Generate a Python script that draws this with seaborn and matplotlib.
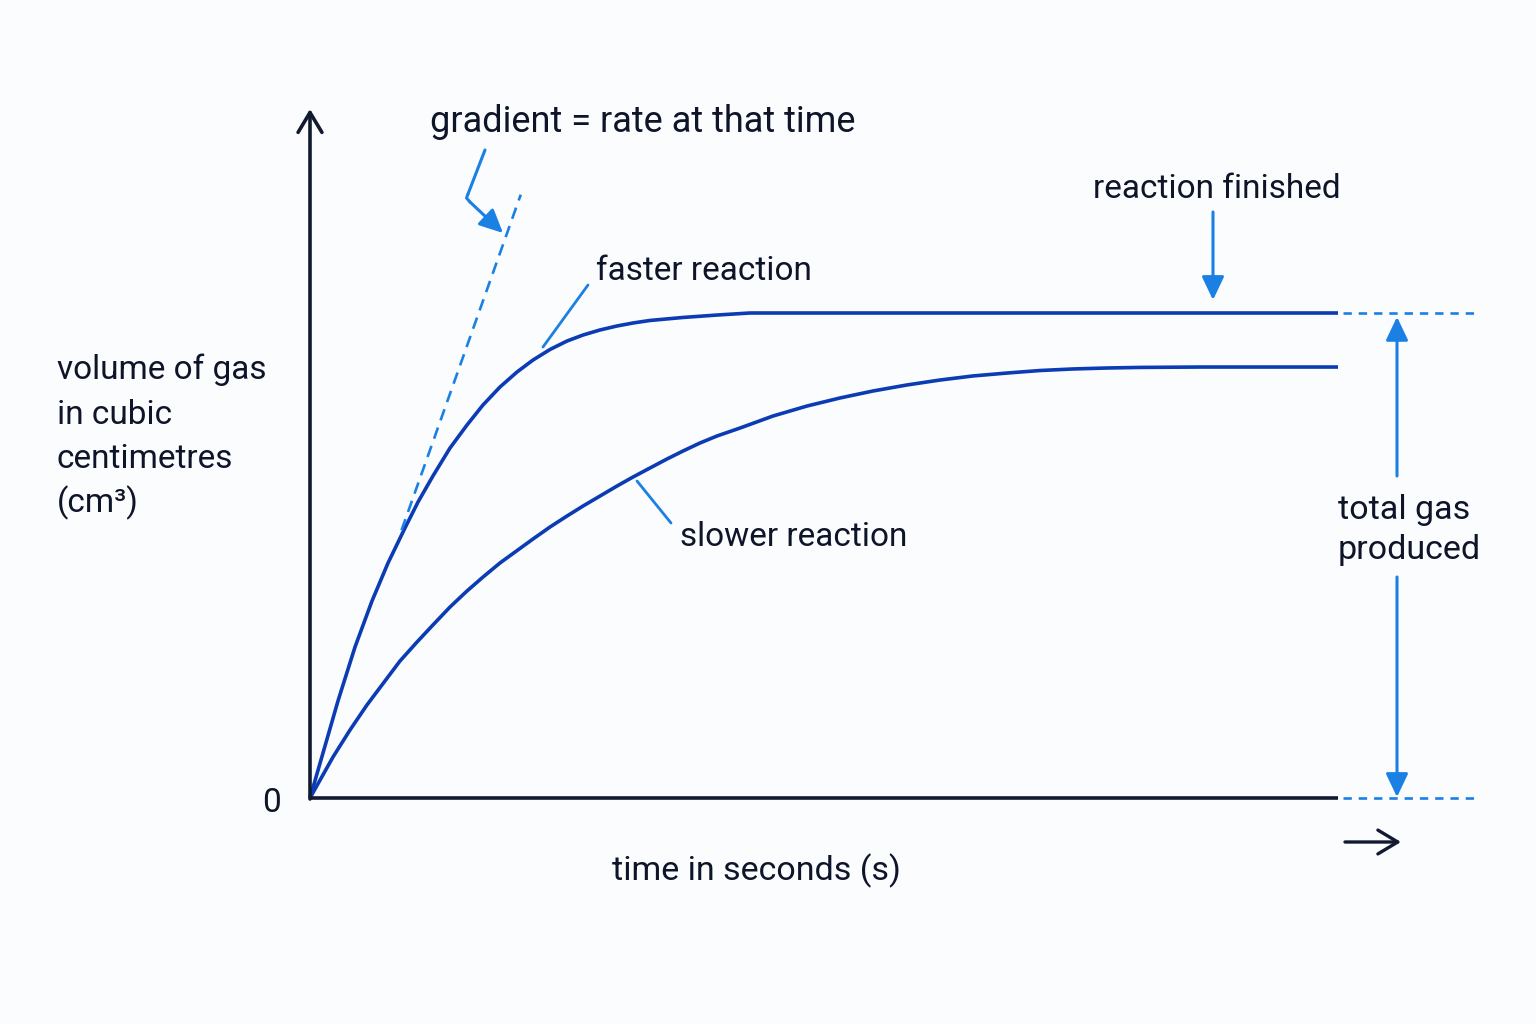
import numpy as np
import pandas as pd
import matplotlib
matplotlib.use("Agg")
import matplotlib.pyplot as plt
import matplotlib.transforms as mtransforms
import seaborn as sns

# ---------------- data ----------------
time_faster = [0, 1.46, 2.72, 4.38, 6.03, 7.59, 9.24, 10.51, 11.96, 13.62, 15.27,
               16.83, 18.48, 20.14, 21.69, 23.35, 25.0, 26.56, 28.21, 29.86,
               31.42, 33.07, 36.28, 39.59, 42.80, 100]
vol_faster = [0, 5.36, 10.0, 15.57, 20.31, 24.23, 27.84, 30.52, 33.2, 36.08, 38.45,
              40.52, 42.37, 43.92, 45.15, 46.24, 47.11, 47.73, 48.25, 48.66,
              48.97, 49.23, 49.54, 49.79, 50.0, 50.0]

time_slower = [0, 2.24, 3.89, 5.54, 8.75, 10.41, 11.96, 13.62, 15.27, 16.83, 18.48,
               21.69, 23.35, 25.0, 26.56, 28.21, 29.86, 31.42, 33.07, 34.73, 36.28,
               37.94, 39.59, 41.83, 45.04, 48.35, 51.56, 54.77, 58.07, 61.28,
               64.49, 67.80, 71.01, 74.22, 77.53, 80.74, 86.58, 100]
vol_slower = [0, 4.23, 7.01, 9.59, 14.12, 16.08, 17.84, 19.69, 21.34, 22.78, 24.23,
              26.70, 27.94, 29.07, 30.10, 31.13, 32.16, 33.09, 34.02, 34.95, 35.77,
              36.60, 37.32, 38.14, 39.38, 40.41, 41.24, 41.96, 42.58, 43.09,
              43.51, 43.81, 44.07, 44.23, 44.33, 44.39, 44.43, 44.43]

tangent_time = [8.9, 20.5]
tangent_vol = [27.6, 62.2]

labels = {
    "gradient": "gradient = rate at that time",
    "finished": "reaction finished",
    "faster": "faster reaction",
    "slower": "slower reaction",
    "ylabel": ["volume of gas", "in cubic", "centimetres", "(cm\u00b3)"],
    "xlabel": "time in seconds (s)",
    "total": ["total gas", "produced"],
    "zero": "0",
}

# ---------------- style ----------------
sns.set_theme(style="white")
plt.rcParams["font.family"] = ["Roboto", "DejaVu Sans"]
plt.rcParams["lines.scale_dashes"] = False

BG = "#fbfcfd"
TEXT = "#0e1529"
AXIS = "#111a30"
CURVE = "#0b3cb4"
ACCENT = "#1a80e4"
FS = 24

W, H = 1536, 1024
fig = plt.figure(figsize=(W / 100, H / 100), dpi=100, facecolor=BG)

# pixel -> figure transform for annotations
pix = mtransforms.Affine2D().scale(1 / W, -1 / H).translate(0, 1) + fig.transFigure

# axes: origin at (310, 798), right end 1338, top 110
x0, y0, x1, ytop = 310, 798, 1338, 110
ax = fig.add_axes([x0 / W, 1 - y0 / H, (x1 - x0) / W, (y0 - ytop) / H])
ax.set_facecolor(BG)
ax.set_xlim(0, 100)
ymax = (y0 - ytop) / 9.7
ax.set_ylim(0, ymax)
ax.axis("off")

# curves
df_f = pd.DataFrame({"time": time_faster, "volume": vol_faster})
df_s = pd.DataFrame({"time": time_slower, "volume": vol_slower})
sns.lineplot(data=df_f, x="time", y="volume", ax=ax, color=CURVE, lw=2.6,
             clip_on=False, solid_joinstyle="round", solid_capstyle="butt")
sns.lineplot(data=df_s, x="time", y="volume", ax=ax, color=CURVE, lw=2.6,
             clip_on=False, solid_joinstyle="round", solid_capstyle="butt")

# tangent (dashed)
ax.plot(tangent_time, tangent_vol, color=ACCENT, lw=1.9, ls=(0, (8.5, 5.5)),
        clip_on=False)

# axes lines
ax.plot([0, 100], [0, 0], color=AXIS, lw=2.6, clip_on=False,
        solid_capstyle="butt", zorder=5)
ax.annotate("", xy=(x0, 109), xycoords=pix, xytext=(x0, y0 + 1), textcoords=pix,
            arrowprops=dict(arrowstyle="->,head_length=0.55,head_width=0.33",
                            color=AXIS, lw=2.6, shrinkA=0, shrinkB=0,
                            mutation_scale=26),
            annotation_clip=False)
# small arrow under the x axis end
ax.annotate("", xy=(1401, 842), xycoords=pix, xytext=(1345, 842), textcoords=pix,
            arrowprops=dict(arrowstyle="->,head_length=0.55,head_width=0.33",
                            color=AXIS, lw=2.4, shrinkA=0, shrinkB=0,
                            mutation_scale=26),
            annotation_clip=False)

# dashed extension lines at total gas levels
ext_t = [(1343 - x0) / 10.28, (1478 - x0) / 10.28]
for lvl in (vol_faster[-1], 0):
    ax.plot(ext_t, [lvl, lvl], color=ACCENT, lw=1.9, ls=(0, (6, 5)), clip_on=False)

# double arrow for total gas produced
t_arr = (1397 - x0) / 10.28
head = dict(arrowstyle="-|>,head_length=0.42,head_width=0.2", color=ACCENT,
            lw=2.2, shrinkA=0, shrinkB=0, mutation_scale=34)
ax.annotate("", xy=(t_arr, vol_faster[-1] - 0.4), xytext=(t_arr, (y0 - 476) / 9.7),
            arrowprops=head, annotation_clip=False)
ax.annotate("", xy=(t_arr, 0.1), xytext=(t_arr, (y0 - 577) / 9.7),
            arrowprops=head, annotation_clip=False)

# reaction finished arrow
ax.annotate("", xy=(1213, 300), xycoords=pix, xytext=(1213, 212), textcoords=pix,
            arrowprops=head, annotation_clip=False)

# gradient bent arrow
ax.plot([485, 468], [150, 194], transform=pix, color=ACCENT, lw=2.2,
        solid_capstyle="round", clip_on=False)
ax.plot([468, 466.5, 470], [194, 198, 202], transform=pix, color=ACCENT, lw=2.2,
        solid_capstyle="round", solid_joinstyle="round", clip_on=False)
ax.annotate("", xy=(503, 233), xycoords=pix, xytext=(470, 202), textcoords=pix,
            arrowprops=head, annotation_clip=False)

# leader lines
ax.plot([588, 543], [285, 347], transform=pix, color=ACCENT, lw=2.0, clip_on=False)
ax.plot([637, 671], [481, 523], transform=pix, color=ACCENT, lw=2.0, clip_on=False)

# ---------------- texts ----------------
def ftext(px, py, s, fs=FS, **kw):
    fig.text(px / W, 1 - py / H, s, color=TEXT, fontsize=fs, va="baseline", **kw)

ftext(430, 132, labels["gradient"], fs=26)
ftext(1093, 198, labels["finished"])
ftext(596, 280, labels["faster"])
ftext(680, 546, labels["slower"])
for i, line in enumerate(labels["ylabel"]):
    ftext(57, 379 + 44.5 * i, line)
ftext(612, 880, labels["xlabel"], fs=24.5)
ftext(1338, 519, labels["total"][0], fs=24.5)
ftext(1338, 559, labels["total"][1], fs=24.5)
ftext(271, 812, labels["zero"], ha="center")

fig.savefig("out.png", dpi=100, facecolor=BG)
